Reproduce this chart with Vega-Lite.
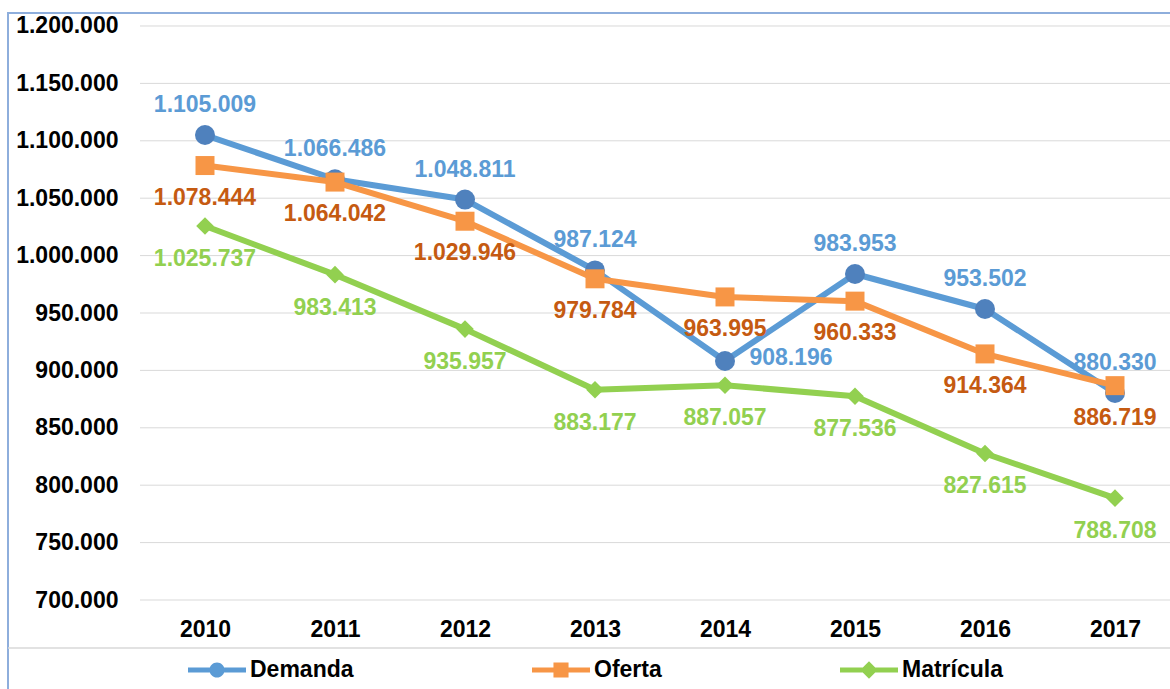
{
  "$schema": "https://vega.github.io/schema/vega-lite/v6.json",
  "width": 1174,
  "height": 688,
  "autosize": {"type": "none"},
  "padding": {"left": 8, "top": 13, "right": -12, "bottom": -12},
  "background": "white",
  "config": {
    "view": {"stroke": "#8EAEDC", "strokeWidth": 2},
    "locale": {"number": {"decimal": ",", "thousands": ".", "grouping": [3], "currency": ["", ""]}},
    "font": "Liberation Sans"
  },
  "datasets": {
    "main": [
      {"year": 2010, "serie": "Demanda", "valor": 1105009},
      {"year": 2011, "serie": "Demanda", "valor": 1066486},
      {"year": 2012, "serie": "Demanda", "valor": 1048811},
      {"year": 2013, "serie": "Demanda", "valor": 987124},
      {"year": 2014, "serie": "Demanda", "valor": 908196},
      {"year": 2015, "serie": "Demanda", "valor": 983953},
      {"year": 2016, "serie": "Demanda", "valor": 953502},
      {"year": 2017, "serie": "Demanda", "valor": 880330},
      {"year": 2010, "serie": "Oferta", "valor": 1078444},
      {"year": 2011, "serie": "Oferta", "valor": 1064042},
      {"year": 2012, "serie": "Oferta", "valor": 1029946},
      {"year": 2013, "serie": "Oferta", "valor": 979784},
      {"year": 2014, "serie": "Oferta", "valor": 963995},
      {"year": 2015, "serie": "Oferta", "valor": 960333},
      {"year": 2016, "serie": "Oferta", "valor": 914364},
      {"year": 2017, "serie": "Oferta", "valor": 886719},
      {"year": 2010, "serie": "Matrícula", "valor": 1025737},
      {"year": 2011, "serie": "Matrícula", "valor": 983413},
      {"year": 2012, "serie": "Matrícula", "valor": 935957},
      {"year": 2013, "serie": "Matrícula", "valor": 883177},
      {"year": 2014, "serie": "Matrícula", "valor": 887057},
      {"year": 2015, "serie": "Matrícula", "valor": 877536},
      {"year": 2016, "serie": "Matrícula", "valor": 827615},
      {"year": 2017, "serie": "Matrícula", "valor": 788708}
    ],
    "grid": [
      {"nivel": 700000}, {"nivel": 750000}, {"nivel": 800000}, {"nivel": 850000},
      {"nivel": 900000}, {"nivel": 950000}, {"nivel": 1000000}, {"nivel": 1050000},
      {"nivel": 1100000}, {"nivel": 1150000}, {"nivel": 1200000}
    ]
  },
  "data": {"name": "main"},
  "layer": [
    {
      "data": {"name": "grid"},
      "mark": {"type": "rule", "color": "#D9D9D9", "strokeWidth": 1},
      "encoding": {
        "y": {"field": "nivel", "type": "quantitative",
          "scale": {"domain": [612021, 1211324], "nice": false, "zero": false},
          "axis": {"title": null, "values": [700000, 750000, 800000, 850000, 900000, 950000, 1000000, 1050000, 1100000, 1150000, 1200000],
            "format": ",d", "grid": false, "ticks": false, "tickSize": 0, "domain": false,
            "labelFont": "Liberation Sans", "labelFontSize": 23, "labelFontWeight": "bold", "labelColor": "black",
            "labelPadding": 0, "offset": -110}},
        "x": {"datum": 2009.5, "type": "quantitative",
          "scale": {"domain": [2008.4846, 2017.5154], "nice": false, "zero": false},
          "axis": {"title": null, "values": [2010, 2011, 2012, 2013, 2014, 2015, 2016, 2017], "format": "d",
            "grid": false, "ticks": false, "tickSize": 0, "domain": false,
            "labelFont": "Liberation Sans", "labelFontSize": 23, "labelFontWeight": "bold", "labelColor": "black",
            "labelPadding": 0, "offset": -83, "labelFlush": false, "labelOverlap": false}},
        "x2": {"datum": 2017.5154}
      }
    },
    {
      "data": {"values": [{}]},
      "mark": {"type": "rule", "color": "#D9D9D9", "strokeWidth": 1.5},
      "encoding": {
        "y": {"datum": 658188, "type": "quantitative"},
        "x": {"datum": 2008.4846, "type": "quantitative"},
        "x2": {"datum": 2017.5154}
      }
    },
    {
      "transform": [{"filter": "datum.serie === 'Demanda'"}],
      "mark": {"type": "line", "color": "#5B9BD5", "strokeWidth": 6, "strokeJoin": "round", "strokeCap": "round",
        "point": {"filled": true, "shape": "circle", "size": 400, "color": "#4F81BD", "opacity": 1}},
      "encoding": {
        "x": {"field": "year", "type": "quantitative"},
        "y": {"field": "valor", "type": "quantitative"}
      }
    },
    {
      "transform": [{"filter": "datum.serie === 'Oferta'"}],
      "mark": {"type": "line", "color": "#F79646", "strokeWidth": 6, "strokeJoin": "round", "strokeCap": "round",
        "point": {"filled": true, "shape": "square", "size": 361, "color": "#F79646", "opacity": 1}},
      "encoding": {
        "x": {"field": "year", "type": "quantitative"},
        "y": {"field": "valor", "type": "quantitative"}
      }
    },
    {
      "transform": [{"filter": "datum.serie === 'Matrícula'"}],
      "mark": {"type": "line", "color": "#92D050", "strokeWidth": 6, "strokeJoin": "round", "strokeCap": "round",
        "point": {"filled": true, "shape": "diamond", "size": 310, "color": "#92D050", "opacity": 1}},
      "encoding": {
        "x": {"field": "year", "type": "quantitative"},
        "y": {"field": "valor", "type": "quantitative"}
      }
    },
    {
      "transform": [{"filter": "datum.valor < 0"}],
      "mark": {"type": "point", "filled": true, "opacity": 1},
      "encoding": {
        "x": {"field": "year", "type": "quantitative"},
        "y": {"field": "valor", "type": "quantitative"},
        "fill": {"field": "serie", "type": "nominal",
          "scale": {"domain": ["Demanda", "Oferta", "Matrícula"], "range": ["#5B9BD5", "#F79646", "#92D050"]},
          "legend": {"title": null, "orient": "none", "legendX": 180, "legendY": 628, "direction": "horizontal", "columns": 3,
            "columnPadding": 178, "symbolSize": 3364, "symbolStrokeWidth": 0, "symbolOpacity": 1,
            "labelFont": "Liberation Sans", "labelFontSize": 23, "labelFontWeight": "bold", "labelColor": "black",
            "labelOffset": 4, "padding": 0, "labelLimit": 300}},
        "shape": {"field": "serie", "type": "nominal",
          "scale": {"domain": ["Demanda", "Oferta", "Matrícula"], "range": [
            "M-1,-0.09H1V0.09H-1Z M0.26,0A0.26,0.26,0,1,1,-0.26,0A0.26,0.26,0,1,1,0.26,0Z",
            "M-1,-0.09H1V0.09H-1Z M-0.26,-0.26H0.26V0.26H-0.26Z",
            "M-1,-0.09H1V0.09H-1Z M0,-0.3L0.3,0L0,0.3L-0.3,0Z"]},
          "legend": {"title": null, "orient": "none", "legendX": 180, "legendY": 628, "direction": "horizontal", "columns": 3,
            "columnPadding": 178, "symbolSize": 3364, "symbolStrokeWidth": 0, "symbolOpacity": 1,
            "labelFont": "Liberation Sans", "labelFontSize": 23, "labelFontWeight": "bold", "labelColor": "black",
            "labelOffset": 4, "padding": 0, "labelLimit": 300}}
      }
    },
    {
      "transform": [{"filter": "datum.serie === 'Demanda' && datum.year !== 2014"}],
      "mark": {"type": "text", "color": "#5B9BD5", "font": "Liberation Sans", "fontSize": 23, "fontWeight": "bold", "dy": -30, "baseline": "middle"},
      "encoding": {
        "x": {"field": "year", "type": "quantitative"},
        "y": {"field": "valor", "type": "quantitative"},
        "text": {"field": "valor", "type": "quantitative", "format": ",d"}
      }
    },
    {
      "transform": [{"filter": "datum.serie === 'Demanda' && datum.year === 2014"}],
      "mark": {"type": "text", "color": "#5B9BD5", "font": "Liberation Sans", "fontSize": 23, "fontWeight": "bold", "dx": 66, "dy": -3, "baseline": "middle"},
      "encoding": {
        "x": {"field": "year", "type": "quantitative"},
        "y": {"field": "valor", "type": "quantitative"},
        "text": {"field": "valor", "type": "quantitative", "format": ",d"}
      }
    },
    {
      "transform": [{"filter": "datum.serie === 'Oferta'"}],
      "mark": {"type": "text", "color": "#C55A11", "font": "Liberation Sans", "fontSize": 23, "fontWeight": "bold", "dy": 32, "baseline": "middle"},
      "encoding": {
        "x": {"field": "year", "type": "quantitative"},
        "y": {"field": "valor", "type": "quantitative"},
        "text": {"field": "valor", "type": "quantitative", "format": ",d"}
      }
    },
    {
      "transform": [{"filter": "datum.serie === 'Matrícula'"}],
      "mark": {"type": "text", "color": "#92D050", "font": "Liberation Sans", "fontSize": 23, "fontWeight": "bold", "dy": 33, "baseline": "middle"},
      "encoding": {
        "x": {"field": "year", "type": "quantitative"},
        "y": {"field": "valor", "type": "quantitative"},
        "text": {"field": "valor", "type": "quantitative", "format": ",d"}
      }
    }
  ]
}
